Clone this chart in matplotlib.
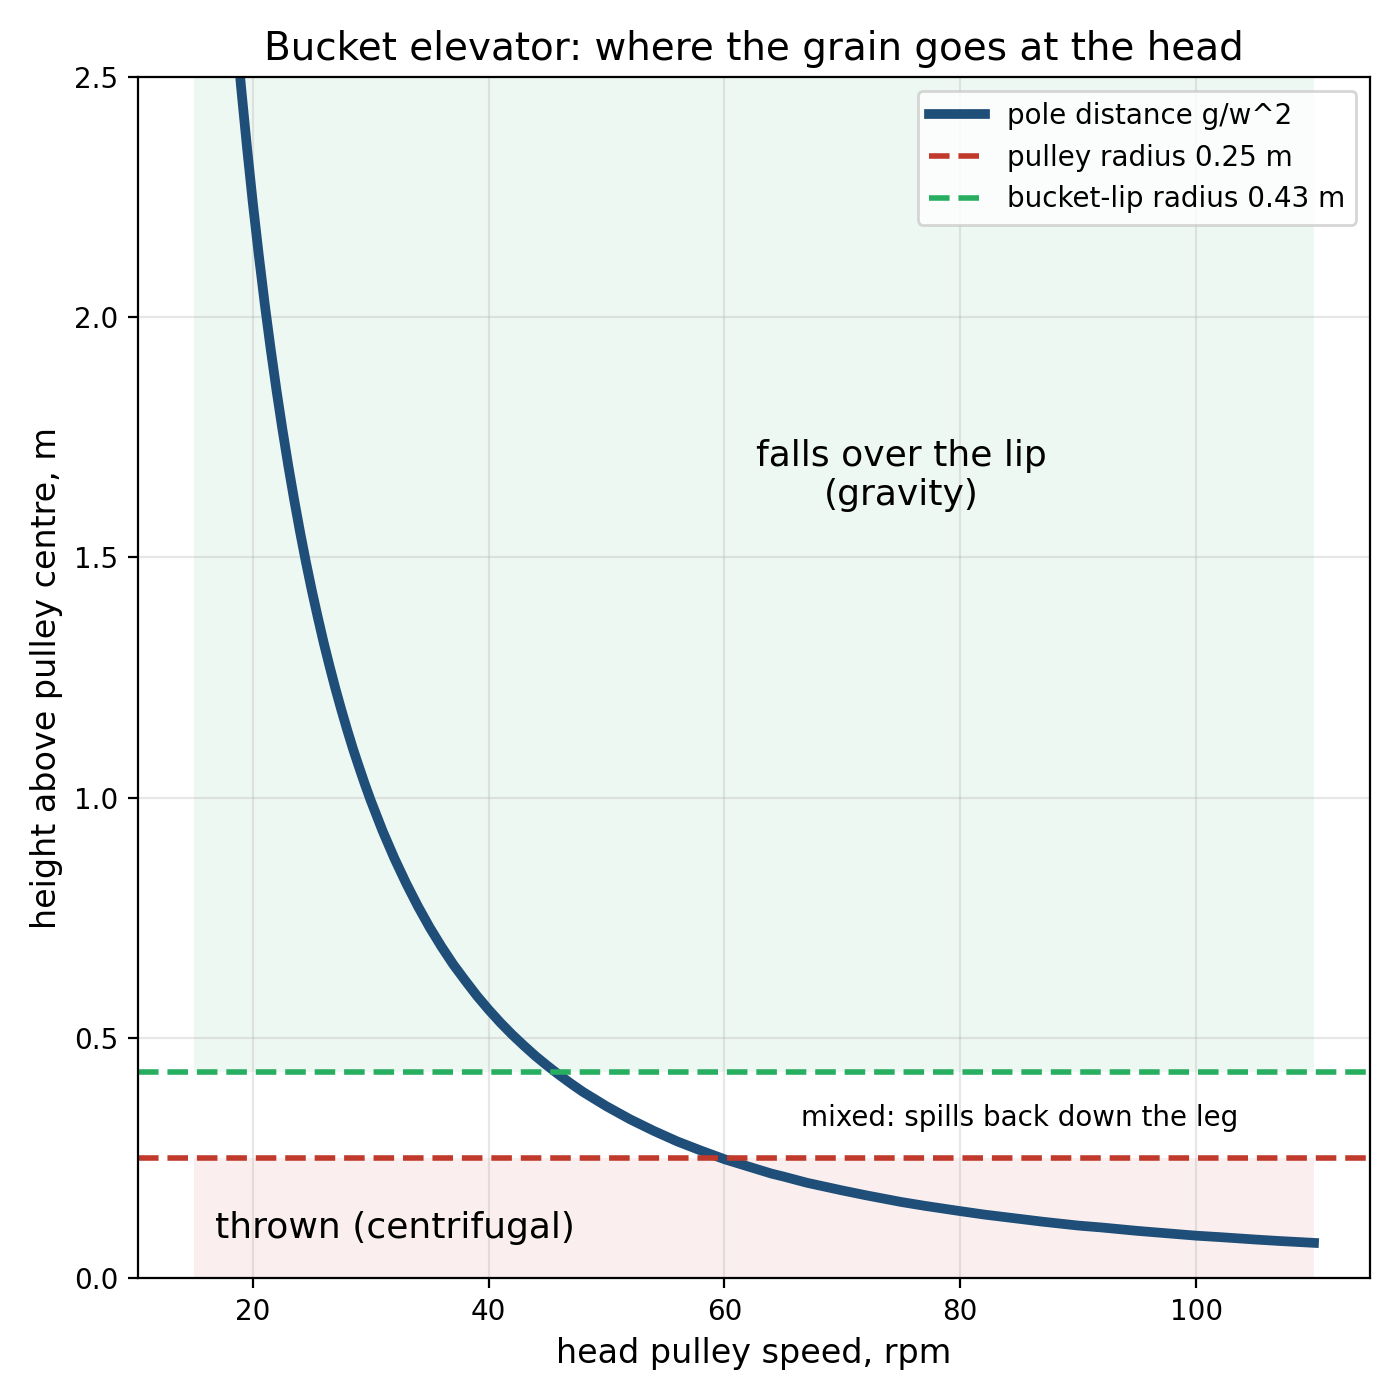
import matplotlib
matplotlib.use("Agg")
import matplotlib.pyplot as plt

# head pulley speed (rpm) and pole distance (m)
rpm = [15, 15.5, 16, 16.5, 17, 17.5, 18, 18.5, 19, 19.5, 20, 20.5, 21, 21.5,
       22, 22.5, 23, 23.5, 24, 24.5, 25, 25.5, 26, 26.5, 27, 27.5, 28, 28.5,
       29, 29.5, 30, 31, 32, 33, 34, 35, 36, 37, 38, 39, 40, 41, 42, 43, 44,
       45, 46, 47, 48, 49, 50, 52, 54, 55, 56, 58, 60, 62, 64, 65, 67, 70,
       72, 75, 77, 80, 82, 85, 87, 90, 92, 95, 97, 100, 102, 105, 107, 110]
pole = [3.976, 3.723, 3.494, 3.286, 3.095, 2.921, 2.761, 2.614, 2.478, 2.353,
        2.236, 2.129, 2.028, 1.935, 1.848, 1.767, 1.691, 1.620, 1.553, 1.490,
        1.431, 1.376, 1.323, 1.274, 1.227, 1.183, 1.141, 1.101, 1.064, 1.028,
        0.994, 0.931, 0.874, 0.822, 0.774, 0.730, 0.690, 0.653, 0.620, 0.588,
        0.559, 0.532, 0.507, 0.484, 0.462, 0.442, 0.423, 0.405, 0.388, 0.373,
        0.358, 0.331, 0.307, 0.296, 0.285, 0.266, 0.248, 0.233, 0.218, 0.212,
        0.199, 0.183, 0.173, 0.159, 0.151, 0.140, 0.133, 0.124, 0.118, 0.110,
        0.106, 0.099, 0.095, 0.089, 0.086, 0.081, 0.078, 0.074]

pulley_r = 0.25
lip_r = 0.43
y_top = 2.5

fig, ax = plt.subplots(figsize=(7, 7), dpi=200)

ax.fill_between([rpm[0], rpm[-1]], lip_r, y_top, color="#27ae60", alpha=0.08, lw=0)
ax.fill_between([rpm[0], rpm[-1]], 0, pulley_r, color="#c0392b", alpha=0.08, lw=0)

ax.plot(rpm, pole, color="#1f4e79", lw=3.5, label="pole distance g/w^2")
ax.axhline(pulley_r, color="#c0392b", ls="--", lw=2, label="pulley radius 0.25 m")
ax.axhline(lip_r, color="#27ae60", ls="--", lw=2, label="bucket-lip radius 0.43 m")

ax.text(75, 1.67, "falls over the lip\n(gravity)", ha="center", va="center", fontsize=13)
ax.text(85, 0.333, "mixed: spills back down the leg", ha="center", va="center", fontsize=10)
ax.text(16.8, 0.104, "thrown (centrifugal)", ha="left", va="center", fontsize=13)

ax.set_ylim(0, y_top)
ax.set_xlabel("head pulley speed, rpm", fontsize=12)
ax.set_ylabel("height above pulley centre, m", fontsize=12)
ax.set_title("Bucket elevator: where the grain goes at the head", fontsize=14)
ax.grid(True, alpha=0.3)
ax.legend(loc="upper right", fontsize=10)

plt.tight_layout()
plt.savefig("out.png", dpi=200)
plt.close()
